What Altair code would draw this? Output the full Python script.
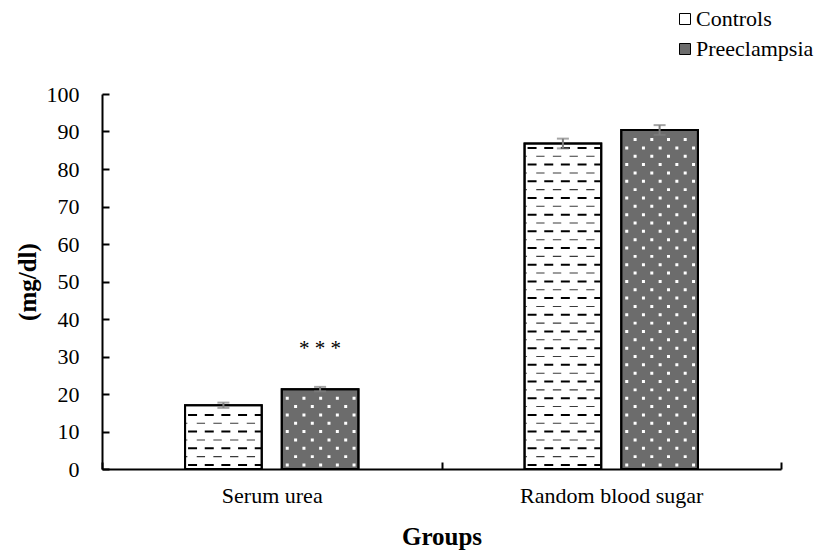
import altair as alt
import pandas as pd

# ---- data -------------------------------------------------------------
groups = ["Serum urea", "Random blood sugar"]
series = ["Controls", "Preeclampsia"]
control_means = [17.0, 86.8]
preeclampsia_means = [21.3, 90.4]
control_sem = [0.7, 1.3]
preeclampsia_sem = [0.6, 1.3]

# significance marker above the preeclampsia urea bar
sig_group = ["Serum urea"]
sig_series = ["Preeclampsia"]
sig_y = [30.4]
sig_text = ["* * *"]

rows = []
for g, m, e in zip(groups, control_means, control_sem):
    rows.append({"group": g, "series": "Controls", "value": m, "err": e})
for g, m, e in zip(groups, preeclampsia_means, preeclampsia_sem):
    rows.append({"group": g, "series": "Preeclampsia", "value": m, "err": e})
df = pd.DataFrame(rows)
sig_df = pd.DataFrame({"group": sig_group, "series": sig_series, "y": sig_y, "label": sig_text})

# ---- styling ------------------------------------------------------------
FONT = "Liberation Serif"
BAR_W = 76.7          # rendered bar width in px (used to size the pattern glyphs)
PE_FILL = "#6c6c6c"


def row_path(spans, half_h, dy=0.0):
    """SVG path (in the -1..1 symbol box) of filled strips across one bar."""
    u = BAR_W / 2
    out = []
    for a, b in spans:
        x0, x1 = a / u - 1, b / u - 1
        y0, y1 = (dy - half_h) / u, (dy + half_h) / u
        out.append(f"M{x0:.4f},{y0:.4f}H{x1:.4f}V{y1:.4f}H{x0:.4f}Z")
    return "".join(out)


THICK_DASHES = row_path([(3, 12), (19.7, 28.7), (36.3, 45.3), (53, 62), (69.7, 76)], 1.0)
THIN_DASHES = row_path([(0.8, 2.3), (11.7, 20), (28.3, 36.7), (45, 53.3), (61.7, 70)], 0.55)
DOTS_A = row_path([(4 + k * 16.7, 7 + k * 16.7) for k in range(5)], 1.5)
DOTS_B = row_path([(12.35 + k * 16.7, 15.35 + k * 16.7) for k in range(4)], 1.5)
SYM_SIZE = BAR_W ** 2

x_enc = alt.X(
    "group:N",
    sort=groups,
    scale=alt.Scale(paddingInner=0, paddingOuter=0),
    axis=alt.Axis(
        title="Groups",
        labelAngle=0,
        labelLimit=0,
        tickBand="extent",
        tickSize={"expr": "-7"},
        labelPadding=23,
        titlePadding=18,
    ),
)
xoff_enc = alt.XOffset(
    "series:N", sort=series, scale=alt.Scale(paddingInner=0.207, paddingOuter=0.859)
)
y_axis = alt.Axis(
    title="(mg/dl)",
    values=list(range(0, 101, 10)),
    tickSize={"expr": "-7"},
    labelPadding=30,
    titlePadding=6,
    grid=False,
)
y_scale = alt.Scale(domain=[0, 100], nice=False)

base = alt.Chart(df)

bars = base.mark_bar(stroke="black", strokeWidth=2).encode(
    x=x_enc,
    xOffset=xoff_enc,
    y=alt.Y("value:Q", scale=y_scale, axis=y_axis),
    fill=alt.Fill(
        "series:N",
        sort=series,
        scale=alt.Scale(domain=series, range=["white", PE_FILL]),
        legend=alt.Legend(
            title=None,
            orient="none",
            legendX=572,
            legendY=-86,
            symbolType="square",
            symbolSize=121,
            symbolStrokeColor="black",
            symbolStrokeWidth=1,
            labelFont=FONT,
            labelFontSize=22,
            labelColor="black",
            labelOffset=0,
            labelLimit=0,
            rowPadding=8,
        ),
    ),
)


def pattern(series_name, start, shape, color):
    return (
        base.transform_filter(alt.datum.series == series_name)
        .transform_calculate(row=f"sequence({start}, datum.value - 0.4, 4.45)")
        .transform_flatten(["row"])
        .mark_point(shape=shape, filled=True, size=SYM_SIZE, opacity=1, strokeWidth=0, color=color)
        .encode(x=x_enc, xOffset=xoff_enc, y=alt.Y("row:Q", scale=y_scale, axis=y_axis))
    )


thick = pattern("Controls", 1.07, THICK_DASHES, "black")
thin = pattern("Controls", 3.3, THIN_DASHES, "#3a3a3a")
dots_a = pattern("Preeclampsia", 1.07, DOTS_A, "white")
dots_b = pattern("Preeclampsia", 3.3, DOTS_B, "white")

outline = base.mark_bar(fillOpacity=0, stroke="black", strokeWidth=2).encode(
    x=x_enc, xOffset=xoff_enc, y=alt.Y("value:Q", scale=y_scale, axis=y_axis)
)

err = base.transform_calculate(
    lo="datum.value - datum.err", hi="datum.value + datum.err"
)
err_rule = err.mark_rule(color="#7f7f7f", strokeWidth=2).encode(
    x=x_enc, xOffset=xoff_enc, y=alt.Y("lo:Q", scale=y_scale, axis=y_axis), y2="hi:Q"
)
cap_hi = err.mark_tick(color="#7f7f7f", thickness=2, size=12).encode(
    x=x_enc, xOffset=xoff_enc, y=alt.Y("hi:Q", scale=y_scale, axis=y_axis)
)
cap_lo = err.mark_tick(color="#7f7f7f", thickness=2, size=12).encode(
    x=x_enc, xOffset=xoff_enc, y=alt.Y("lo:Q", scale=y_scale, axis=y_axis)
)

sig = alt.Chart(sig_df).mark_text(
    font=FONT, fontSize=21, color="black", baseline="alphabetic"
).encode(
    x=x_enc, xOffset=xoff_enc, y=alt.Y("y:Q", scale=y_scale, axis=y_axis), text="label:N"
)

chart = (
    alt.layer(bars, thick, thin, dots_a, dots_b, outline, err_rule, cap_hi, cap_lo, sig)
    .properties(
        width=679,
        height=375,
        padding={"left": 102, "top": 94, "right": 37, "bottom": 82},
        autosize=alt.AutoSizeParams(type="none"),
        background="white",
    )
    .configure_view(stroke=None)
    .configure_axis(
        domainColor="black",
        domainWidth=2,
        tickColor="black",
        tickWidth=2,
        labelFont=FONT,
        labelFontSize=22,
        labelColor="black",
        titleFont=FONT,
        titleFontSize=25,
        titleFontWeight="bold",
        titleColor="black",
    )
)

chart.save("out.html", embed_options={"renderer": "svg", "actions": False})
